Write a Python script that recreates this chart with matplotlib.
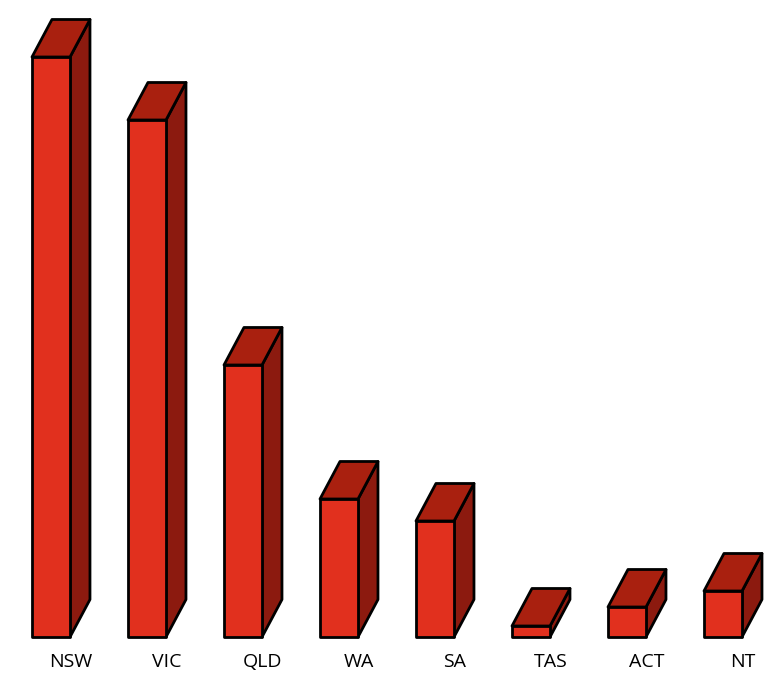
import matplotlib.pyplot as plt
from matplotlib.patches import Polygon

# data (front face height, arbitrary units)
states = ['NSW', 'VIC', 'QLD', 'WA', 'SA', 'TAS', 'ACT', 'NT']
values = [580, 517, 272, 138, 116, 11, 30, 46]

FRONT = '#E1301E'
TOP = '#A9200F'
SIDE = '#8C1A0F'

w = 0.396    # bar width (category units)
dx = 0.208   # depth offset in x
dy = 37.5    # depth offset in y

fig = plt.figure(figsize=(7.8, 6.86), dpi=100)
ax = fig.add_axes([0, 0, 1, 1])
ax.set_xlim(-0.53125, 7.59375)
ax.set_ylim(-49, 637)
ax.axis('off')

style = dict(edgecolor='black', linewidth=2.0, joinstyle='round')

for i, (name, h) in enumerate(zip(states, values)):
    l, r = i - w / 2, i + w / 2
    front = [(l, 0), (r, 0), (r, h), (l, h)]
    top = [(l, h), (r, h), (r + dx, h + dy), (l + dx, h + dy)]
    side = [(r, 0), (r + dx, dy), (r + dx, h + dy), (r, h)]
    ax.add_patch(Polygon(side, closed=True, facecolor=SIDE, **style))
    ax.add_patch(Polygon(top, closed=True, facecolor=TOP, **style))
    ax.add_patch(Polygon(front, closed=True, facecolor=FRONT, **style))
    ax.text(r + 0.01, -25, name, ha='center', va='center',
            fontsize=14, family='Open Sans', color='black')

fig.savefig('out.png', dpi=100)
